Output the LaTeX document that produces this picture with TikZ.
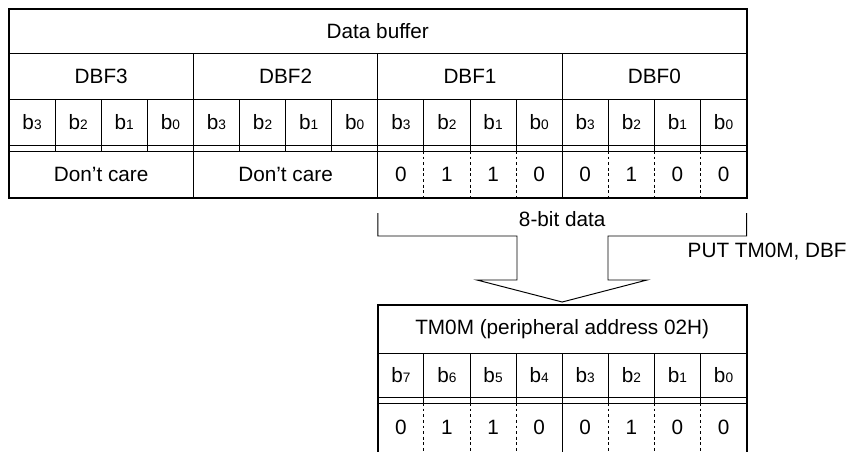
\documentclass[tikz,border=0pt]{standalone}
\usepackage{fontspec}
\setmainfont{Liberation Sans}
\usetikzlibrary{positioning}

\newcommand\bitno[1]{b{\fontsize{7.8}{9}\selectfont #1}}

\tikzset{
  cell/.style={font=\fontsize{11.8}{14}\selectfont,inner sep=0pt},
  frame/.style={line width=1.15pt},
  rule/.style={line width=0.55pt},
  dots/.style={line width=0.55pt,dash pattern=on 1.6pt off 1.6pt},
}

\begin{document}
\begin{tikzpicture}[x=0.02cm,y=-0.02cm]
\useasboundingbox (0,0) rectangle (848,451);
% data buffer
\foreach \y in {53,99,145,151} \draw[rule] (9,\y) -- (746.6,\y);
\foreach \i in {4,8,12} \draw[rule] ({9+\i*46.1},53) -- ({9+\i*46.1},198);
\foreach \i in {1,2,3,5,6,7,9,10,11,13,14,15} \draw[rule] ({9+\i*46.1},99) -- ({9+\i*46.1},151);
\foreach \i in {9,10,11,13,14,15} \draw[dots] ({9+\i*46.1},151) -- ({9+\i*46.1},198);
\draw[frame] (9,9) rectangle (746.6,198);
\node[cell] (buf) at (377.8,31) {Data buffer};
\foreach \n [count=\j from 0] in {3,2,1,0}
  \node[cell] (dbf\n) at ({9+(4*\j+2)*46.1},76) {DBF\n};
\foreach \i in {0,...,15}{
  \pgfmathtruncatemacro\k{3-mod(\i,4)}
  \node[cell] (tb\i) at ({9+(\i+.5)*46.1},122) {\bitno{\k}};
}
\node[cell] (dc3) at (101.2,174) {Don’t care};
\node[cell] (dc2) at (285.6,174) {Don’t care};
\foreach \v [count=\i from 8] in {0,1,1,0,0,1,0,0}
  \node[cell] (td\i) at ({9+(\i+.5)*46.1},174) {\v};

% transfer
\coordinate (l0) at (377.8,213);
\coordinate (r0) at (746.6,213);
\coordinate (tip) at (562.2,302);
\draw[rule] (l0) -- (377.8,236) -- (517,236) -- (517,280) -- (477,280) -- (tip)
  -- (647,280) -- (608,280) -- (608,236) -- (746.6,236) -- (r0);
\node[cell] (bits) at (562.2,219) {8-bit data};
\node[cell,anchor=east] (put) at (847,252) {PUT TM0M, DBF};

% TM0M
\foreach \y in {353,397,403} \draw[rule] (377.8,\y) -- (746.6,\y);
\draw[rule] (562.2,353) -- (562.2,460);
\foreach \i in {1,2,3,5,6,7}{
  \draw[rule] ({377.8+\i*46.1},353) -- ({377.8+\i*46.1},403);
  \draw[dots] ({377.8+\i*46.1},403) -- ({377.8+\i*46.1},460);
}
\draw[frame] (377.8,460) -- (377.8,305) -- (746.6,305) -- (746.6,460);
\node[cell] (tm) at (562.2,329) {TM0M (peripheral address 02H)};
\foreach \i in {0,...,7}{
  \pgfmathtruncatemacro\k{7-\i}
  \node[cell] (mb\i) at ({377.8+(\i+.5)*46.1},375) {\bitno{\k}};
}
\foreach \v [count=\i from 0] in {0,1,1,0,0,1,0,0}
  \node[cell] (md\i) at ({377.8+(\i+.5)*46.1},427) {\v};
\end{tikzpicture}
\end{document}
